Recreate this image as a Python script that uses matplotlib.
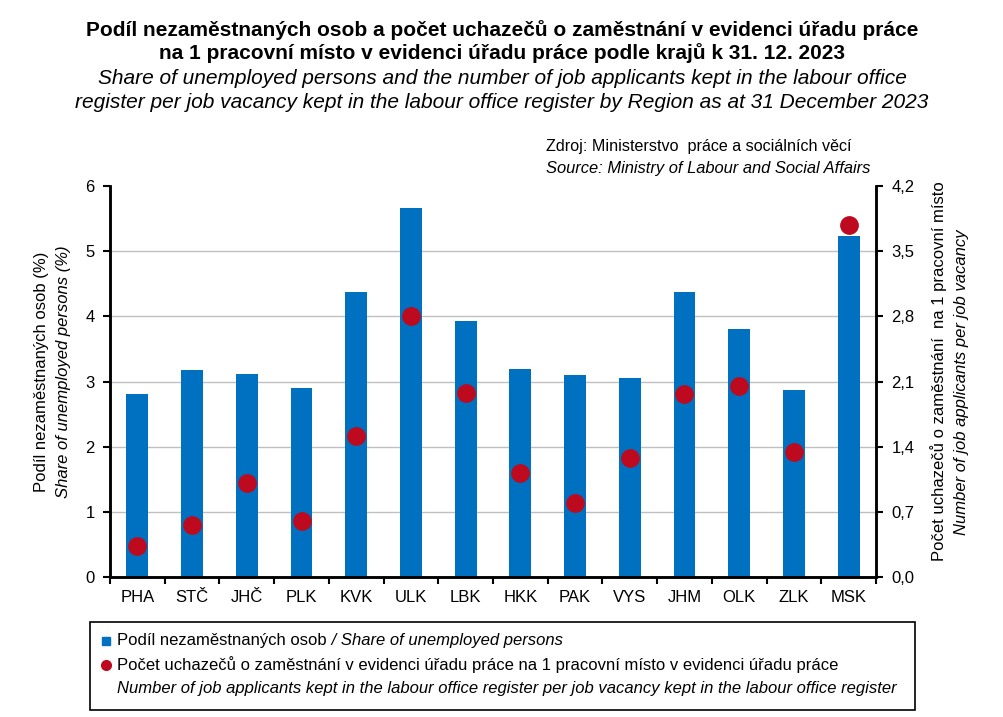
import matplotlib
matplotlib.use("Agg")
import matplotlib.pyplot as plt
from matplotlib.patches import Rectangle
from matplotlib.lines import Line2D
import numpy as np

plt.rcParams['font.family'] = ['Liberation Sans', 'DejaVu Sans']

regions = ['PHA', 'STČ', 'JHČ', 'PLK', 'KVK', 'ULK', 'LBK', 'HKK', 'PAK', 'VYS', 'JHM', 'OLK', 'ZLK', 'MSK']
unemployed_share = [2.81, 3.17, 3.11, 2.90, 4.37, 5.66, 3.93, 3.19, 3.10, 3.05, 4.37, 3.80, 2.87, 5.23]
applicants_per_vacancy = [0.33, 0.56, 1.01, 0.60, 1.51, 2.80, 1.98, 1.12, 0.80, 1.28, 1.97, 2.05, 1.34, 3.78]
left_ticks = [0, 1, 2, 3, 4, 5, 6]
right_ticks = [0.0, 0.7, 1.4, 2.1, 2.8, 3.5, 4.2]
right_tick_labels = ['0,0', '0,7', '1,4', '2,1', '2,8', '3,5', '4,2']

BLUE = '#0070C0'
RED = '#BE0A1E'

fig = plt.figure(figsize=(10.04, 7.17), dpi=100)
ax = fig.add_axes([110/1004, 1-577/717, (876-110)/1004, (577-186)/717])
x = np.arange(len(regions))
ax.bar(x, unemployed_share, width=0.40, color=BLUE, zorder=2)
ax.set_xlim(-0.5, len(regions)-0.5)
ax.set_ylim(0, 6)
ax.set_yticks(left_ticks)
ax.set_yticklabels([str(t) for t in left_ticks], fontsize=12)
for t in left_ticks[1:-1]:
    ax.axhline(t, color='#BFBFBF', lw=1, zorder=1)
ax.set_xticks(x)
ax.set_xticklabels(regions, fontsize=12)
ax.tick_params(axis='x', length=0, pad=9)
ax.set_xticks(np.arange(-0.5, len(regions)), minor=True)
ax.tick_params(axis='x', which='minor', length=5, width=1.5, direction='out')
ax.tick_params(axis='y', length=5, width=1.5, direction='out', pad=6)
ax.spines['top'].set_visible(False)
for s in ['left', 'bottom', 'right']:
    ax.spines[s].set_linewidth(1.8)

ax2 = ax.twinx()
ax2.plot(x, applicants_per_vacancy, 'o', color=RED, markersize=12.5, zorder=3)
ax2.set_ylim(0, 4.2)
ax2.set_yticks(right_ticks)
ax2.set_yticklabels(right_tick_labels, fontsize=12)
ax2.tick_params(axis='y', length=5, width=1.5, direction='out', pad=6)
ax2.spines['top'].set_visible(False)
for s in ['left', 'bottom', 'right']:
    ax2.spines[s].set_linewidth(1.8)

# Titles
fig.text(0.5, 1-30/717, 'Podíl nezaměstnaných osob a počet uchazečů o zaměstnání v evidenci úřadu práce',
         ha='center', va='center', fontsize=15, fontweight='bold')
fig.text(0.5, 1-53/717, 'na 1 pracovní místo v evidenci úřadu práce podle krajů k 31. 12. 2023',
         ha='center', va='center', fontsize=15, fontweight='bold')
fig.text(0.5, 1-79/717, 'Share of unemployed persons and the number of job applicants kept in the labour office',
         ha='center', va='center', fontsize=15, style='italic')
fig.text(0.5, 1-102/717, 'register per job vacancy kept in the labour office register by Region as at 31 December 2023',
         ha='center', va='center', fontsize=15, style='italic')

# Source
fig.text(546/1004, 1-147/717, 'Zdroj: Ministerstvo  práce a sociálních věcí', ha='left', va='center', fontsize=11.6)
fig.text(546/1004, 1-169/717, 'Source: Ministry of Labour and Social Affairs', ha='left', va='center', fontsize=11.9, style='italic')

# Axis labels
fig.text(42/1004, 1-372/717, 'Podíl nezaměstnaných osob (%)', rotation=90, ha='center', va='center', fontsize=12)
fig.text(64/1004, 1-372/717, 'Share of unemployed persons (%)', rotation=90, ha='center', va='center', fontsize=12, style='italic')
fig.text(939/1004, 1-371/717, 'Počet uchazečů o zaměstnání  na 1 pracovní místo', rotation=90, ha='center', va='center', fontsize=12)
fig.text(962/1004, 1-382/717, 'Number of job applicants per job vacancy', rotation=90, ha='center', va='center', fontsize=12, style='italic')

# Legend
fig.patches.append(Rectangle((90/1004, 1-710/717), (915-90)/1004, (710-622)/717, transform=fig.transFigure,
                             fill=False, edgecolor='black', lw=1.2))
fig.add_artist(Line2D([106/1004], [1-641/717], marker='s', markersize=6, color=BLUE, linestyle='none',
                      transform=fig.transFigure))
t1 = fig.text(117/1004, 1-641/717, 'Podíl nezaměstnaných osob', ha='left', va='center', fontsize=12)
fig.add_artist(plt.Annotation(' / Share of unemployed persons', xy=(1, 0.5), xycoords=t1, ha='left', va='center',
                              fontsize=12, style='italic'))
fig.add_artist(Line2D([106/1004], [1-665/717], marker='o', markersize=7, color=RED, linestyle='none',
                      transform=fig.transFigure))
fig.text(117/1004, 1-665/717, 'Počet uchazečů o zaměstnání v evidenci úřadu práce na 1 pracovní místo v evidenci úřadu práce',
         ha='left', va='center', fontsize=12)
fig.text(117/1004, 1-688/717, 'Number of job applicants kept in the labour office register per job vacancy kept in the labour office register',
         ha='left', va='center', fontsize=12, style='italic')

fig.savefig('out.png', dpi=100)
